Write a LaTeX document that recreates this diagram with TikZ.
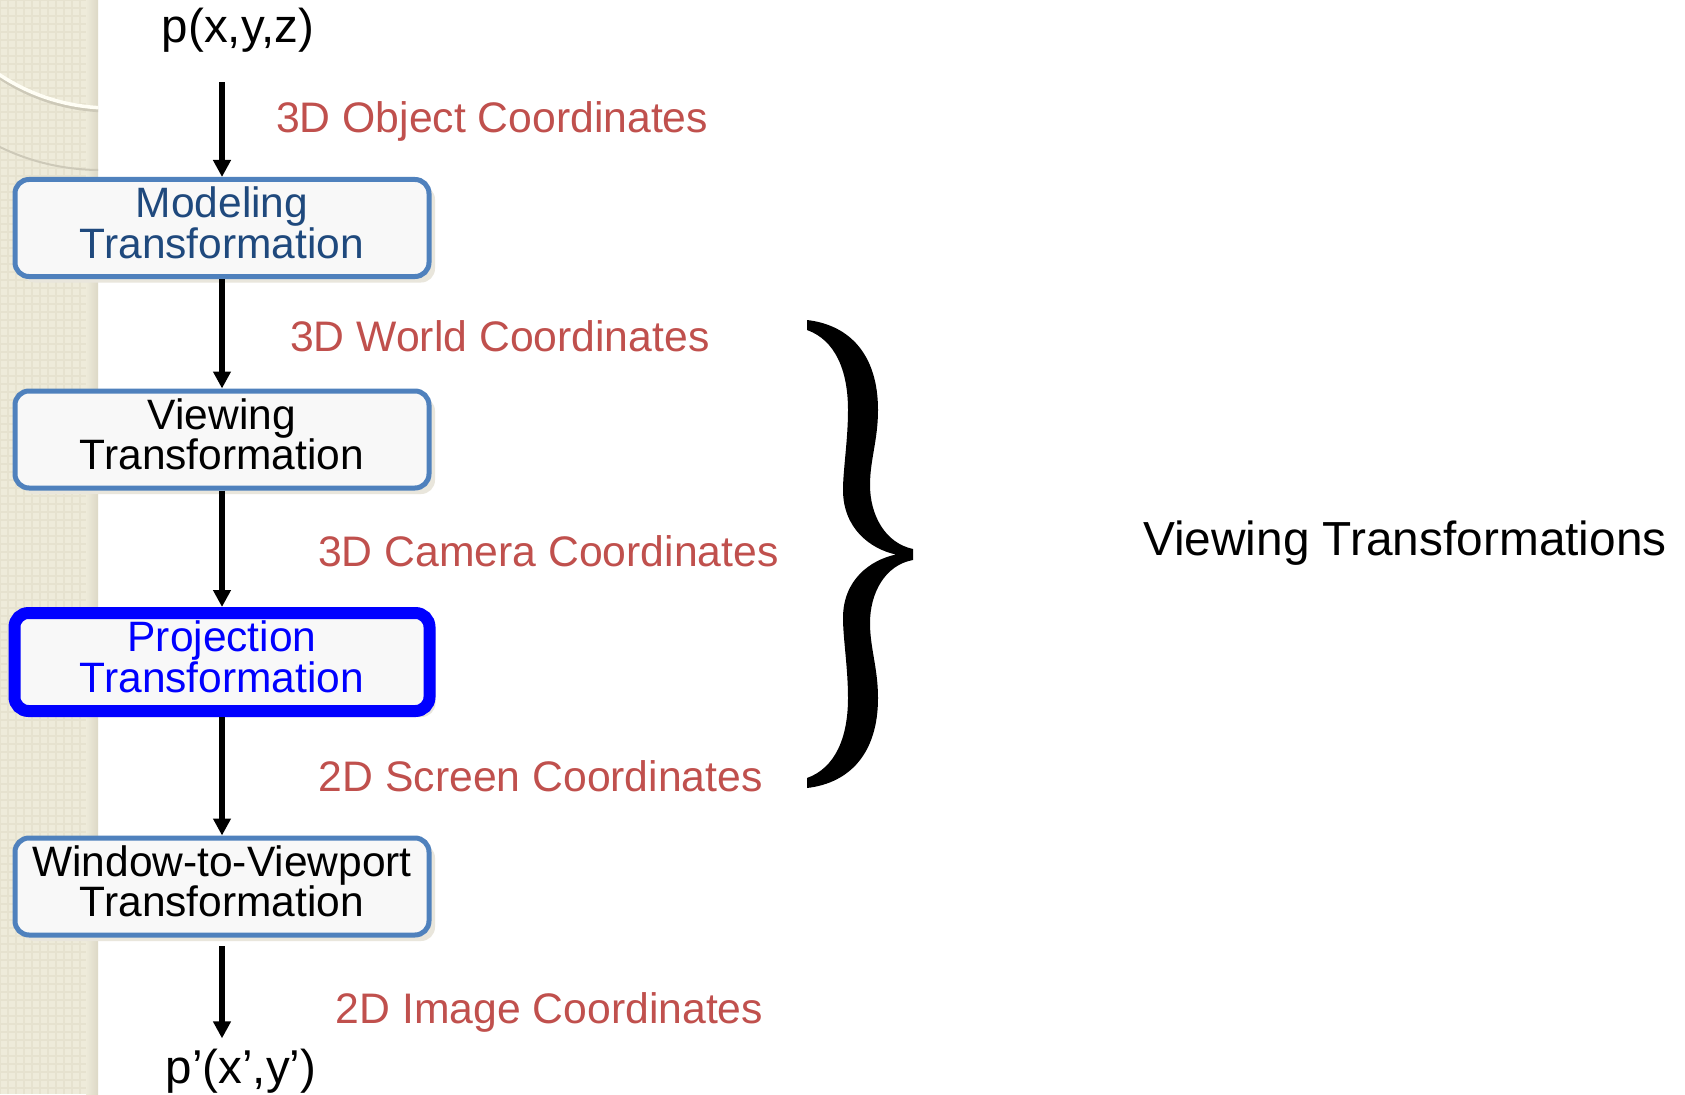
\documentclass[tikz,border=0pt]{standalone}
\usepackage{fontspec}
\setmainfont{Liberation Sans}
\usetikzlibrary{arrows.meta,shadows}
\definecolor{boxblue}{RGB}{79,129,189}
\definecolor{darkblue}{RGB}{31,73,125}
\definecolor{projblue}{RGB}{0,0,255}
\definecolor{labred}{RGB}{192,80,77}
\definecolor{boxfill}{RGB}{248,248,248}
\definecolor{shadowc}{RGB}{233,230,220}
\definecolor{stripc}{RGB}{238,235,218}
\definecolor{stripgrid}{RGB}{230,226,207}
\definecolor{stripedge}{RGB}{220,216,198}
\definecolor{arcgrey}{RGB}{205,201,184}
\begin{document}
\begin{tikzpicture}[x=1pt,y=-1pt,
  tbox/.style={draw=boxblue, line width=5pt, fill=boxfill, rounded corners=14pt,
    minimum width=414pt, minimum height=97pt, align=center, inner sep=0pt,
    font=\fontsize{42.5}{39}\selectfont,
    drop shadow={shadow xshift=6pt, shadow yshift=-6pt, fill=shadowc, opacity=1}},
  lab/.style={text=labred, font=\fontsize{42.7}{48}\selectfont, inner sep=0pt, anchor=base west},
  ptxt/.style={font=\fontsize{47.5}{52}\selectfont, inner sep=0pt, anchor=base},
  arr/.style={line width=5.5pt, -{Triangle[length=17pt,width=17pt]}}]
\useasboundingbox (0,0) rectangle (1685,1094);
\fill[white] (0,0) rectangle (1685,1094);
% left decorative strip
\fill[stripc] (0,0) rectangle (98,1094);
\draw[stripgrid, line width=1.5pt, step=8pt] (0,0) grid (96,1094);
\shade[left color=stripc, right color=stripedge] (86,0) rectangle (98,1094);
\begin{scope}
  \clip (0,0) rectangle (98,1094);
  \draw[arcgrey, line width=2pt] (100,-59) circle[radius=229pt];
  \draw[arcgrey, line width=3pt] (110,-89) circle[radius=200pt];
  \draw[white!96!yellow, line width=3.5pt] (110,-92) circle[radius=200pt];
\end{scope}
% nodes
\node[ptxt] (p) at (238,43) {p(x,y,z)};
\node[tbox, text=darkblue] (m) at (222,228) {Modeling\\Transformation\rule[-11pt]{0pt}{11pt}};
\node[tbox] (v) at (222,439.5) {Viewing\\Transformation\rule[-11pt]{0pt}{11pt}};
\node[tbox, draw=projblue, line width=12pt, text=projblue, minimum width=415pt, minimum height=98pt] (pr) at (222,662) {Projection\\Transformation\rule[-11pt]{0pt}{11pt}};
\node[tbox] (w) at (222,886.5) {Window-to-Viewport\\Transformation\rule[-11pt]{0pt}{11pt}};
\node[ptxt] (pp) at (241,1083) {p’(x’,y’)};
% connectors
\draw[arr, shorten <=29pt] (m.north |- p.south) -- (m.north);
\draw[arr] (m) -- (v);
\draw[arr] (v) -- (pr);
\draw[arr] (pr) -- (w);
\draw[arr, shorten <=8.5pt, shorten >=10pt] (w.south) -- (w.south |- pp.north);
% labels
\node[lab] (l1) at (276,133) {3D Object Coordinates};
\node[lab] (l2) at (290,351) {3D World Coordinates};
\node[lab] (l3) at (318,566) {3D Camera Coordinates};
\node[lab] (l4) at (318.7,791) {2D Screen Coordinates};
\node[lab] (l5) at (335.7,1023) {2D Image Coordinates};
% brace
\fill[black] (807,320) .. controls (850,325) and (878,355) .. (878,410)
  .. controls (878,440) and (870,460) .. (870,485)
  .. controls (870,515) and (885,543) .. (913,549)
  -- (913,560)
  .. controls (885,565) and (870,593) .. (870,623)
  .. controls (870,648) and (878,668) .. (878,698)
  .. controls (878,753) and (850,783) .. (807,788)
  -- (807,778)
  .. controls (835,768) and (848,738) .. (848,698)
  .. controls (848,668) and (843,638) .. (843,618)
  .. controls (843,580) and (870,560) .. (896,554.5)
  .. controls (870,549) and (843,528) .. (843,490)
  .. controls (843,470) and (848,440) .. (848,410)
  .. controls (848,370) and (835,340) .. (807,330)
  -- cycle;
\node[font=\fontsize{47.8}{54}\selectfont, inner sep=0pt, anchor=base west] (vt) at (1143,555) {Viewing Transformations};
\end{tikzpicture}
\end{document}
